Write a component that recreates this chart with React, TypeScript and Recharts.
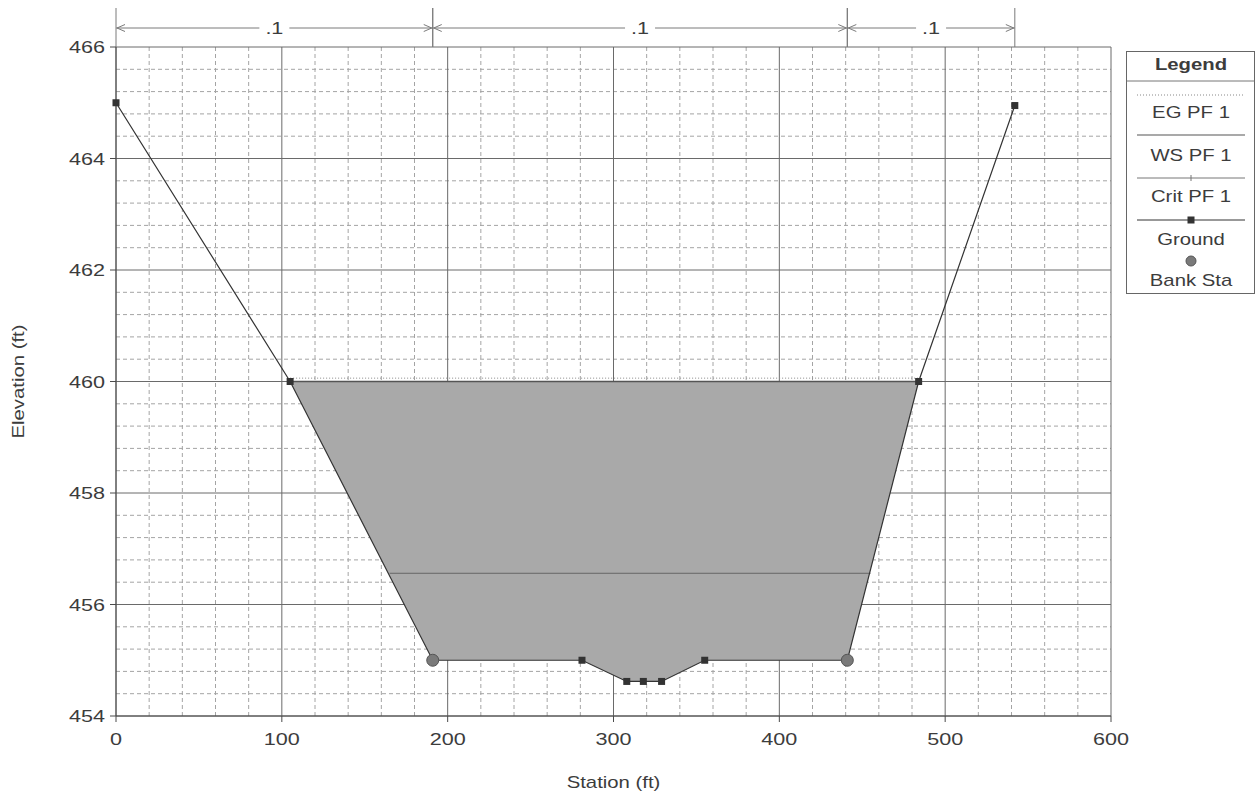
import React from 'react';
import {
  ComposedChart,
  Area,
  Line,
  Scatter,
  XAxis,
  YAxis,
  CartesianGrid,
  ReferenceLine,
} from 'recharts';

const FONT = '"Liberation Sans", Arial, sans-serif';
const TEXT = '#3c3c3c';
const AXIS = '#4a4a4a';
const GRID_MAJOR = '#6a6a6a';
const GRID_MINOR = '#a4a4a4';
const FILL = '#a9a9a9';
const GROUND = '#333333';
const STRETCH = 1.27; // the text in the source is drawn wide

// cross section
const groundStations = [0, 105, 191, 281, 308, 318, 329, 355, 441, 484, 542];
const groundElev = [465, 460, 455, 455, 454.62, 454.62, 454.62, 455, 455, 460, 464.95];
const bankStations = [191, 441];
const bankElev = [455, 455];

// profile PF 1
const wsStations = [105, 484];
const wsElev = 460;
const egElev = 460.06;
const critStations = [165, 455];
const critElev = 456.56;

// manning's n zones
const nStations = [0, 191, 441, 542];
const nValues = ['.1', '.1', '.1'];

const xTicks = [0, 100, 200, 300, 400, 500, 600];
const yTicks = [454, 456, 458, 460, 462, 464, 466];
const xMinor = Array.from({ length: 31 }, (_, i) => i * 20).filter((v) => v % 100 !== 0);
const yMinor = Array.from({ length: 31 }, (_, i) => +(454 + i * 0.4).toFixed(1)).filter(
  (v) => Math.abs(v / 2 - Math.round(v / 2)) > 0.01
);

const groundData = groundStations.map((s, i) => ({
  station: s,
  elev: groundElev[i],
  water: s >= wsStations[0] && s <= wsStations[1] ? [groundElev[i], wsElev] : null,
}));
const wsData = wsStations.map((s) => ({ station: s, elev: wsElev }));
const egData = wsStations.map((s) => ({ station: s, elev: egElev }));
const critData = critStations.map((s) => ({ station: s, elev: critElev }));
const bankData = bankStations.map((s, i) => ({ station: s, elev: bankElev[i] }));

// wide text, anchored at (x, y) on the baseline
const SText = (props: any) => {
  const { x, y, anchor = 'middle', size = 17, weight, rotate = 0, children, baseline } = props;
  return (
    <text
      transform={`translate(${x} ${y}) rotate(${rotate}) scale(${STRETCH} 1)`}
      textAnchor={anchor}
      dominantBaseline={baseline}
      fontSize={size}
      fontWeight={weight}
      fontFamily={FONT}
      fill={TEXT}
    >
      {children}
    </text>
  );
};

const XTick = (p: any) => (
  <SText x={p.x} y={p.y + 17}>
    {p.payload.value}
  </SText>
);
const YTick = (p: any) => (
  <SText x={p.x} y={p.y + 6} anchor="end">
    {p.payload.value}
  </SText>
);

const SquareDot = (props: any) => {
  const { cx, cy, index } = props;
  if (cx == null || cy == null) return <g key={index} />;
  return <rect key={index} x={cx - 3.5} y={cy - 3.5} width={7} height={7} fill={GROUND} />;
};

const BankDot = (props: any) => {
  const { cx, cy } = props;
  return <circle cx={cx} cy={cy} r={6} fill="#7a7a7a" stroke="#555" strokeWidth={1} />;
};

// n value dimension line drawn above the plot
const DimShape = (props: any) => {
  const { x1, x2, y1, label } = props;
  const top = y1 - 39;
  const ly = y1 - 19;
  const mid = (x1 + x2) / 2;
  const gap = 15;
  const c = '#7a7a7a';
  return (
    <g>
      <line x1={x1} y1={top} x2={x1} y2={y1} stroke={c} />
      <line x1={x2} y1={top} x2={x2} y2={y1} stroke={c} />
      <line x1={x1} y1={ly} x2={mid - gap} y2={ly} stroke={c} />
      <line x1={mid + gap} y1={ly} x2={x2} y2={ly} stroke={c} />
      <polyline points={`${x1 + 9},${ly - 3.5} ${x1 + 1},${ly} ${x1 + 9},${ly + 3.5}`} fill="none" stroke={c} />
      <polyline points={`${x2 - 9},${ly - 3.5} ${x2 - 1},${ly} ${x2 - 9},${ly + 3.5}`} fill="none" stroke={c} />
      <SText x={mid} y={ly + 6}>
        {label}
      </SText>
    </g>
  );
};

const LegendBox = () => (
  <svg width={131} height={245} style={{ position: 'absolute', left: 1125, top: 50 }}>
    <rect x={1.5} y={1.5} width={128} height={242} fill="#fff" stroke="#666" />
    <SText x={66} y={20} weight="bold" size={16}>
      Legend
    </SText>
    <line x1={1.5} x2={129.5} y1={31} y2={31} stroke="#777" />
    <line x1={12} x2={120} y1={45} y2={45} stroke="#888" strokeDasharray="1 2" />
    <SText x={66} y={68} size={16}>EG PF 1</SText>
    <line x1={12} x2={120} y1={85} y2={85} stroke="#555" strokeWidth={1.2} />
    <SText x={66} y={111} size={16}>WS PF 1</SText>
    <line x1={12} x2={120} y1={128} y2={128} stroke="#777" />
    <line x1={66} x2={66} y1={125} y2={131} stroke="#777" />
    <SText x={66} y={152} size={16}>Crit PF 1</SText>
    <line x1={12} x2={120} y1={170} y2={170} stroke={GROUND} />
    <rect x={62.5} y={166.5} width={7} height={7} fill={GROUND} />
    <SText x={66} y={195} size={16}>Ground</SText>
    <circle cx={66} cy={211} r={5} fill="#7a7a7a" stroke="#555" />
    <SText x={66} y={236} size={16}>Bank Sta</SText>
  </svg>
);

export default function App() {
  return (
    <div style={{ position: 'absolute', left: 0, top: 0, width: 1260, height: 796, background: '#fff' }}>
      <ComposedChart
        width={1260}
        height={796}
        data={groundData}
        margin={{ top: 47, right: 149, bottom: 0, left: 0 }}
      >
        <CartesianGrid
          horizontalValues={yMinor}
          verticalValues={xMinor}
          stroke={GRID_MINOR}
          strokeDasharray="4 3"
        />
        <CartesianGrid stroke={GRID_MAJOR} />
        <XAxis
          type="number"
          dataKey="station"
          domain={[0, 600]}
          ticks={xTicks}
          interval={0}
          tick={XTick}
          tickSize={6}
          tickMargin={6}
          stroke={AXIS}
          height={80}
          label={{
            content: (p: any) => {
              const vb = p.viewBox || { x: 116, y: 716, width: 995 };
              return (
                <SText x={vb.x + vb.width / 2} y={vb.y + 72} size={16}>
                  Station (ft)
                </SText>
              );
            },
          }}
        />
        <YAxis
          type="number"
          domain={[454, 466]}
          ticks={yTicks}
          interval={0}
          tick={YTick}
          tickSize={6}
          tickMargin={5}
          stroke={AXIS}
          width={116}
          label={{
            content: (p: any) => {
              const vb = p.viewBox || { x: 0, y: 47, height: 669 };
              return (
                <SText
                  x={vb.x + 18}
                  y={vb.y + vb.height / 2}
                  rotate={-90}
                  size={16}
                  baseline="central"
                >
                  Elevation (ft)
                </SText>
              );
            },
          }}
        />
        <Area
          dataKey="water"
          type="linear"
          fill={FILL}
          fillOpacity={1}
          stroke="none"
          isAnimationActive={false}
        />
        <Line
          data={critData}
          dataKey="elev"
          type="linear"
          stroke="#666"
          strokeWidth={1}
          dot={false}
          isAnimationActive={false}
        />
        <Line
          data={egData}
          dataKey="elev"
          type="linear"
          stroke="#888"
          strokeWidth={1}
          strokeDasharray="1 2"
          dot={false}
          isAnimationActive={false}
        />
        <Line
          data={wsData}
          dataKey="elev"
          type="linear"
          stroke="#555"
          strokeWidth={1.3}
          dot={false}
          isAnimationActive={false}
        />
        <Line
          dataKey="elev"
          type="linear"
          stroke={GROUND}
          strokeWidth={1.2}
          dot={SquareDot}
          activeDot={false}
          isAnimationActive={false}
        />
        <Scatter data={bankData} dataKey="elev" shape={BankDot} isAnimationActive={false} />
        {nValues.map((n, i) => (
          <ReferenceLine
            key={i}
            segment={[
              { x: nStations[i], y: 466 },
              { x: nStations[i + 1], y: 466 },
            ]}
            ifOverflow="visible"
            shape={(p: any) => <DimShape {...p} label={n} />}
          />
        ))}
      </ComposedChart>
      <LegendBox />
    </div>
  );
}
